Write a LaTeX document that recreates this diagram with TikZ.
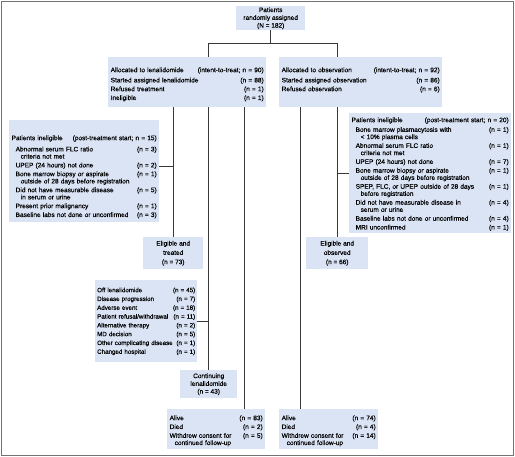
\documentclass[tikz,border=0pt]{standalone}
\usepackage{fontspec}
\setmainfont{Liberation Sans}[FakeBold=0.25]
\definecolor{flowblue}{RGB}{218,228,245}
\newcommand{\rw}[2]{\makebox[\linewidth][l]{#1\hfill#2}}
\newcommand{\itm}[2]{\makebox[\linewidth][l]{\hspace*{4pt}#1\hfill#2}}
\newcommand{\cnt}[1]{\hspace*{9pt}#1}

\begin{document}
\begin{tikzpicture}[x=1pt, y=-1pt,
	every node/.style={fill=flowblue, anchor=north west, font=\fontsize{6.5}{7.2}\selectfont},
	listbox/.style={align=left, inner xsep=2.5pt, inner ysep=0pt},
	midbox/.style={align=center, inner sep=0pt, font=\fontsize{6.5}{7.8}\selectfont},
	link/.style={draw=black!78, line width=0.8pt},
	frame/.style={draw=black!55, line width=0.8pt}]
\useasboundingbox (0,0) rectangle (515,457);
\draw[frame] (1,1) rectangle (513,455);

\node[midbox, minimum width=69pt, minimum height=24pt] (rand) at (236,6) {Patients\\randomly assigned\\(N = 182)};

\node[listbox, text width=153pt, text height=15pt, text depth=35pt] (lena) at (108,57) {%
	\rw{Allocated to lenalidomide}{(intent-to-treat; n = 90)}\\[3pt]
	\rw{Started assigned lenalidomide}{(n = 88)}\\[1.6pt]
	\rw{Refused treatment}{(n = 1)}\\[1.6pt]
	\rw{Ineligible}{(n = 1)}};
\node[listbox, text width=158pt, text height=15pt, text depth=35pt] (obs) at (279,57) {%
	\rw{Allocated to observation}{(intent-to-treat; n = 92)}\\[3pt]
	\rw{Started assigned observation}{(n = 86)}\\[1.6pt]
	\rw{Refused observation}{(n = 6)}};

\node[listbox, text width=145pt, text height=20pt, text depth=82pt] (inel1) at (9,120) {%
	\rw{Patients ineligible}{(post-treatment start; n = 15)}\\[4pt]
	\itm{Abnormal serum FLC ratio}{(n = 3)}\\
	\cnt{criteria not met}\\[1.6pt]
	\itm{UPEP (24 hours) not done}{(n = 2)}\\[1.6pt]
	\itm{Bone marrow biopsy or aspirate}{(n = 1)}\\
	\cnt{outside of 28 days before registration}\\[1.6pt]
	\itm{Did not have measurable disease}{(n = 5)}\\
	\cnt{in serum or urine}\\[1.6pt]
	\itm{Present prior malignancy}{(n = 1)}\\[1.6pt]
	\itm{Baseline labs not done or unconfirmed}{(n = 3)}};
\node[listbox, text width=157pt, text height=9pt, text depth=111pt] (inel2) at (349,113) {%
	\rw{Patients ineligible}{(post-treatment start; n = 20)}\\[2.5pt]
	\itm{Bone marrow plasmacytosis with}{(n = 1)}\\
	\cnt{< 10\% plasma cells}\\[1.6pt]
	\itm{Abnormal serum FLC ratio}{(n = 1)}\\
	\cnt{criteria not met}\\[1.6pt]
	\itm{UPEP (24 hours) not done}{(n = 7)}\\[1.6pt]
	\itm{Bone marrow biopsy or aspirate}{(n = 1)}\\
	\cnt{outside of 28 days before registration}\\[1.6pt]
	\itm{SPEP, FLC, or UPEP outside of 28 days}{(n = 1)}\\
	\cnt{before registration}\\[1.6pt]
	\itm{Did not have measurable disease in}{(n = 4)}\\
	\cnt{serum or urine}\\[1.6pt]
	\itm{Baseline labs not done or unconfirmed}{(n = 4)}\\[1.6pt]
	\itm{MRI unconfirmed}{(n = 1)}};

\node[midbox, minimum width=60pt, minimum height=32pt] (elig1) at (143,237) {Eligible and\\[1.5pt]treated\\[1.5pt](n = 73)};
\node[midbox, minimum width=62pt, minimum height=32pt] (elig2) at (306,237) {Eligible and\\[1.5pt]observed\\[1.5pt](n = 66)};

\node[listbox, inner xsep=2pt, text width=98pt, text height=12pt, text depth=70pt,
	font=\fontsize{6.2}{7.6}\selectfont] (off) at (95,280) {%
	\rw{Off lenalidomide}{(n = 45)}\\[1.2pt]
	\rw{Disease progression}{(n = 7)}\\[1.2pt]
	\rw{Adverse event}{(n = 18)}\\[1.2pt]
	\rw{Patient refusal/withdrawal}{(n = 11)}\\[1.2pt]
	\rw{Alternative therapy}{(n = 2)}\\[1.2pt]
	\rw{MD decision}{(n = 5)}\\[1.2pt]
	\rw{Other complicating disease}{(n = 1)}\\[1.2pt]
	\rw{Changed hospital}{(n = 1)}};
\node[midbox, minimum width=57pt, minimum height=28pt] (cont) at (180,370) {Continuing\\lenalidomide\\(n = 43)};

\node[listbox, text width=93pt, text height=11pt, text depth=29pt] (alive1) at (167,409) {%
	\rw{Alive}{(n = 83)}\\[1.6pt]
	\rw{Died}{(n = 2)}\\[1.6pt]
	\rw{Withdrew consent for}{(n = 5)}\\
	\hspace*{5pt}continued follow-up};
\node[listbox, text width=94pt, text height=11pt, text depth=29pt] (alive2) at (279,409) {%
	\rw{Alive}{(n = 74)}\\[1.6pt]
	\rw{Died}{(n = 4)}\\[1.6pt]
	\rw{Withdrew consent for}{(n = 14)}\\
	\hspace*{5pt}continued follow-up};

\coordinate (a1top) at ([xshift=77pt]alive1.north west);
\coordinate (a2top) at ([xshift=21pt]alive2.north west);
\coordinate (i1tap) at ([yshift=-46pt]inel1.north east);

\draw[link] (rand.south) -- ++(0,13) coordinate (fork);
\draw[link] (lena.north -| cont.north) |- (fork) -| (obs.north -| elig2.north);
\draw[link] (lena.south -| elig1.north) -- (elig1.north);
\draw[link] (lena.south -| cont.north) -- (cont.north);
\draw[link] (lena.south -| a1top) -- (a1top);
\draw[link] (obs.south -| elig2.north) -- (elig2.north);
\draw[link] (obs.south -| a2top) -- (a2top);
\draw[link] (i1tap) -- (i1tap -| elig1.north);
\draw[link] (inel2.west) -- (inel2.west -| elig2.north);
\draw[link] (off.east) -- (off.east -| cont.north);
\end{tikzpicture}
\end{document}
